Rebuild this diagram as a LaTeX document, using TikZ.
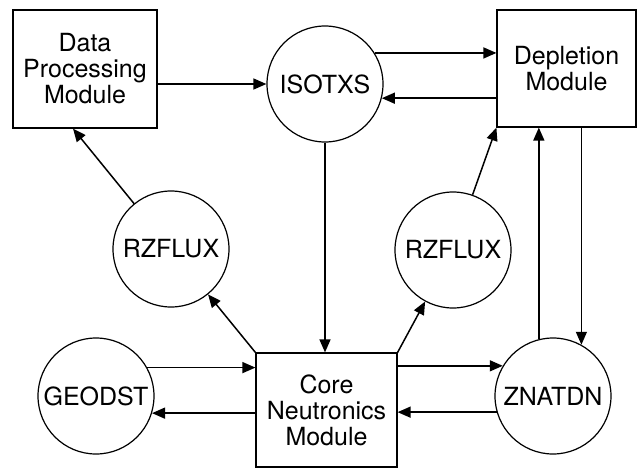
\documentclass[tikz,border=0pt]{standalone}
\usepackage{fontspec}
\setmainfont{TeX Gyre Heros}
\usetikzlibrary{arrows.meta}

\begin{document}
\begin{tikzpicture}[x=1pt, y=-1pt,
	modbox/.style={draw, line width=1.2pt, align=center, inner sep=0pt},
	datafile/.style={draw, circle, line width=1.2pt, minimum size=116pt, inner sep=0pt},
	arr/.style={line width=1.5pt, -{Triangle[length=13pt, width=11pt]}},
	every node/.style={font=\fontsize{25}{26}\selectfont}]
	%\draw[help lines] (0,0) grid[step=50] (637,469);
	\useasboundingbox (0,0) rectangle (637,469);
	\node[modbox, minimum width=144pt, minimum height=118pt] (dpm) at (85,69) {Data\\Processing\\Module};
	\node[modbox, minimum width=139pt, minimum height=117pt] (dep) at (566.5,68.5) {Depletion\\Module};
	\node[modbox, minimum width=141pt, minimum height=114pt] (core) at (326.5,410) {Core\\Neutronics\\Module};
	\node[datafile] (iso) at (325,84) {ISOTXS};
	\node[datafile] (lrz) at (171,249) {RZFLUX};
	\node[datafile] (rrz) at (453,250) {RZFLUX};
	\node[datafile] (geo) at (96,396) {GEODST};
	\node[datafile] (zn) at (553,396) {ZNATDN};
	% top row
	\draw[arr] (dpm.east |- iso.west) -- (iso.west);
	\draw[arr] (iso.32) -- (iso.32 -| dep.west);
	\draw[arr] (iso.-14 -| dep.west) -- (iso.-14);
	\draw[arr] (iso.south) -- (iso.south |- core.north);
	% flux files
	\draw[arr] (core.north west) -- (lrz);
	\draw[arr] (lrz) -- ([xshift=-12pt]dpm.south);
	\draw[arr] (core.north east) -- (rrz);
	\draw[arr] (rrz) -- (dep.south west);
	% bottom row
	\draw[arr] (geo.29) -- (geo.29 -| core.west);
	\draw[arr] (geo.-17 -| core.west) -- (geo.-17);
	\draw[arr] (zn.149 -| core.east) -- (zn.149);
	\draw[arr] (zn.196) -- (zn.196 -| core.east);
	\draw[arr] (zn.104) -- (zn.104 |- dep.south);
	\draw[arr] (zn.61 |- dep.south) -- (zn.61);
\end{tikzpicture}
\end{document}
